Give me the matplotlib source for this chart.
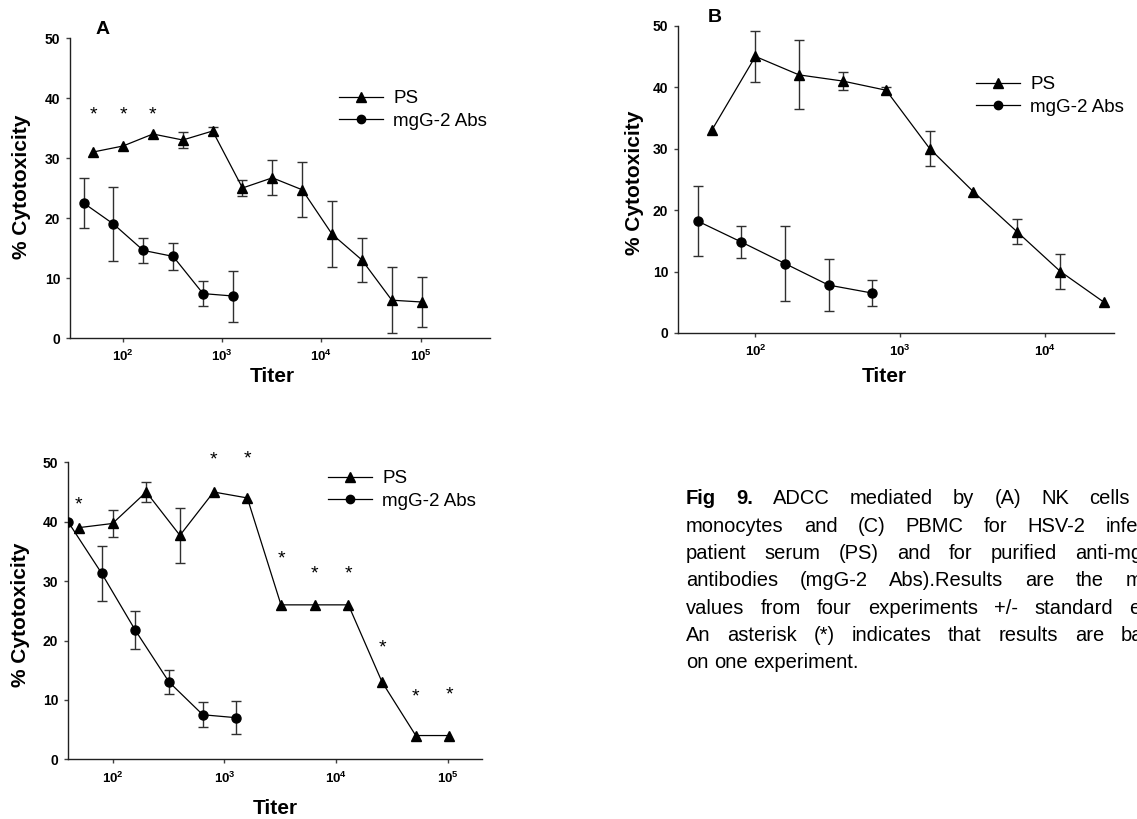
import numpy as np
import matplotlib
matplotlib.use('Agg')
from matplotlib import pyplot as plt
from matplotlib.lines import Line2D

plt.rcParams['font.family'] = ['Liberation Sans', 'DejaVu Sans']
plt.rcParams['mathtext.fontset'] = 'custom'
plt.rcParams['mathtext.rm'] = 'Liberation Sans'
plt.rcParams['mathtext.bf'] = 'Liberation Sans:bold'

# panel A - NK cells
a_ps_x = [50, 100, 200, 400, 800, 1600, 3200, 6400, 12800, 25600, 51200, 102400]
a_ps_y = [31, 32, 34, 33, 34.5, 25, 26.7, 24.7, 17.3, 13, 6.3, 6]
a_ps_err = [0, 0, 0, 1.4, 0.6, 1.4, 2.9, 4.6, 5.5, 3.6, 5.5, 4.2]
a_ab_x = [40, 80, 160, 320, 640, 1280]
a_ab_y = [22.5, 19, 14.6, 13.6, 7.4, 7.0]
a_ab_err = [4.2, 6.2, 2.05, 2.3, 2.1, 4.25]
a_star_x = [50, 100, 200]
a_star_y = [37.1, 37.1, 37.1]

# panel B - monocytes
b_ps_x = [50, 100, 200, 400, 800, 1600, 3200, 6400, 12800, 25600]
b_ps_y = [33, 45, 42, 41, 39.5, 30, 23, 16.5, 10, 5]
b_ps_err = [0, 4.2, 5.6, 1.4, 0.6, 2.8, 0, 2.1, 2.8, 0]
b_ab_x = [40, 80, 160, 320, 640]
b_ab_y = [18.2, 14.8, 11.3, 7.8, 6.5]
b_ab_err = [5.7, 2.6, 6.1, 4.2, 2.1]

# panel C - PBMC
c_ps_x = [50, 100, 200, 400, 800, 1600, 3200, 6400, 12800, 25600, 51200, 102400]
c_ps_y = [39, 39.7, 45, 37.7, 45, 44, 26, 26, 26, 13, 4, 4]
c_ps_err = [0, 2.3, 1.75, 4.6, 0, 0, 0, 0, 0, 0, 0, 0]
c_ab_x = [40, 80, 160, 320, 640, 1280]
c_ab_y = [40, 31.3, 21.7, 13, 7.5, 7]
c_ab_err = [0, 4.65, 3.2, 2.0, 2.1, 2.8]
c_star_x = [50, 800, 1600, 3200, 6400, 12800, 25600, 51200, 102400]
c_star_y = [42.8, 50.4, 50.5, 33.8, 31.2, 31.2, 18.7, 10.5, 10.8]

caption = ["Fig 9. ADCC mediated by (A) NK cells (B)",
           "monocytes and (C) PBMC for HSV-2 infected",
           "patient serum (PS) and for purified anti-mgG-2",
           "antibodies (mgG-2 Abs).Results are the mean",
           "values from four experiments +/- standard error.",
           "An asterisk (*) indicates that results are based",
           "on one experiment."]

W, H = 1137, 819
fig = plt.figure(figsize=(W / 100, H / 100), dpi=100)


def px_axes(l, r, top, bot):
    return fig.add_axes([l / W, 1 - bot / H, (r - l) / W, (bot - top) / H])


def panel(ax, xlim, ps, ab, ticks):
    for x, y, e, m, ms in (ps + ('^', 7), ab + ('o', 6.5)):
        ax.plot(x, y, color='black', lw=0.9, marker=m, ms=ms, zorder=3)
        x = np.array(x); y = np.array(y); e = np.array(e)
        k = e > 0
        ax.errorbar(x[k], y[k], yerr=e[k], fmt='none', ecolor='#303030',
                    elinewidth=1.0, capsize=3.5, capthick=1.0, zorder=2)
    ax.set_xscale('log')
    ax.set_xlim(*xlim)
    ax.set_ylim(0, 50)
    ax.set_yticks([0, 10, 20, 30, 40, 50])
    ax.set_xticks(ticks)
    ax.set_xticklabels([r'$\mathbf{10^{%d}}$' % np.log10(t) for t in ticks])
    ax.xaxis.set_minor_locator(matplotlib.ticker.NullLocator())
    for s in ('top', 'right'):
        ax.spines[s].set_visible(False)
    for s in ('left', 'bottom'):
        ax.spines[s].set_linewidth(1.0)
        ax.spines[s].set_color('#202020')
    ax.tick_params(direction='out', length=3, width=1, color='#404040')
    ax.tick_params(axis='x', labelsize=9.5, pad=5)
    ax.tick_params(axis='y', labelsize=10, pad=4)
    for lab in ax.get_yticklabels():
        lab.set_fontweight('bold')
    handles = [Line2D([], [], color='black', lw=0.9, marker='^', ms=6.5),
               Line2D([], [], color='black', lw=0.9, marker='o', ms=6)]
    return handles


def legend(ax, handles, x, y):
    ax.legend(handles, ['PS', 'mgG-2 Abs'], loc='upper left',
              bbox_to_anchor=(x / W, 1 - y / H), bbox_transform=fig.transFigure,
              frameon=False, fontsize=13.5, handlelength=2.35, handletextpad=0.55,
              labelspacing=0.3, borderpad=0, borderaxespad=0)


def labels(yl, xl):
    fig.text(yl[0] / W, 1 - yl[1] / H, '% Cytotoxicity', rotation=90,
             fontsize=15, fontweight='bold', ha='center', va='center')
    fig.text(xl[0] / W, 1 - xl[1] / H, 'Titer', fontsize=15,
             fontweight='bold', ha='center', va='center')


# A
ax = px_axes(70, 490, 38, 338)
h = panel(ax, (29.2, 5.0e5), (a_ps_x, a_ps_y, a_ps_err),
          (a_ab_x, a_ab_y, a_ab_err), [1e2, 1e3, 1e4, 1e5])
for x, y in zip(a_star_x, a_star_y):
    ax.text(x, y, '*', ha='center', va='center', fontsize=14)
legend(ax, h, 339, 90)
fig.text(103 / W, 1 - 30 / H, 'A', fontsize=14, fontweight='bold',
         ha='center', va='center')
labels((22, 187), (272, 377))

# B
ax = px_axes(678, 1114, 25.7, 333)
h = panel(ax, (29.2, 30000), (b_ps_x, b_ps_y, b_ps_err),
          (b_ab_x, b_ab_y, b_ab_err), [1e2, 1e3, 1e4])
legend(ax, h, 976, 76)
fig.text(715 / W, 1 - 17 / H, 'B', fontsize=14, fontweight='bold',
         ha='center', va='center')
labels((635, 183), (884, 377))

# C
ax = px_axes(68, 482, 462.3, 759.3)
h = panel(ax, (40, 2.0e5), (c_ps_x, c_ps_y, c_ps_err),
          (c_ab_x, c_ab_y, c_ab_err), [1e2, 1e3, 1e4, 1e5])
for x, y in zip(c_star_x, c_star_y):
    ax.text(x, y, '*', ha='center', va='center', fontsize=14)
legend(ax, h, 328, 470)
labels((20, 615), (275, 808))

# caption, justified like the source page (runs off the right edge)
x0, x1 = 686, 1176
y0, dy = 499, 27.3
fs = 14.5
fig.canvas.draw()
r = fig.canvas.get_renderer()
for i, line in enumerate(caption):
    y = 1 - (y0 + i * dy) / H
    words = line.split()
    ts = []
    for j, w in enumerate(words):
        bold = (i == 0 and j < 2)
        ts.append(fig.text(0, y, w, fontsize=fs, va='center',
                           fontweight='bold' if bold else 'normal'))
    wd = [t.get_window_extent(r).width for t in ts]
    if i == len(caption) - 1:
        gap = fs * 0.278 * 100 / 72
    else:
        gap = (x1 - x0 - sum(wd)) / (len(words) - 1)
    x = x0
    for t, w in zip(ts, wd):
        t.set_x(x / W)
        x += w + gap

fig.savefig('out.png', dpi=100)
